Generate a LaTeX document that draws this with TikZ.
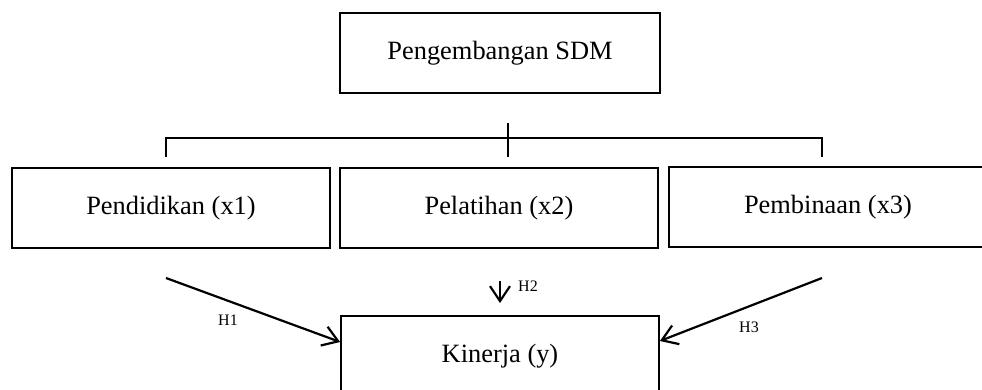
\documentclass[tikz,border=0pt]{standalone}
\usepackage{fontspec}
\setmainfont{Liberation Serif}
\usetikzlibrary{arrows.meta,positioning}

\begin{document}
\begin{tikzpicture}[x=0.5pt, y=-0.5pt,
  every node/.style={font=\fontsize{13.2pt}{16pt}\selectfont},
  varbox/.style={draw, rectangle, line width=0.9pt, minimum width=159pt, minimum height=40pt, inner sep=0pt},
  hlabel/.style={font=\fontsize{8pt}{9pt}\selectfont},
  hyp/.style={-{Straight Barb[length=7.5pt,width=10pt]}, line width=1.1pt}]
  \useasboundingbox (0,0) rectangle (982,390);
  \clip (0,0) rectangle (982,390);
  % boxes
  \node[varbox, minimum width=160pt] (sdm) at (500,53) {Pengembangan SDM};
  \node[varbox] (pend) at (171,208) {Pendidikan (x1)};
  \node[varbox] (pel) at (499,208) {Pelatihan (x2)};
  \node[varbox] (pemb) at (828,207) {Pembinaan (x3)};
  \node[varbox] (kin) at (500,356) {Kinerja (y)};
  % bracket
  \coordinate (bl) at (166,157);
  \coordinate (bm) at (508,157);
  \coordinate (br) at (822,157);
  \draw[line width=0.7pt] (bl) -- ++(0,-19) -| (br);
  \draw[line width=0.7pt] (bm) -- ++(0,-34);
  % hypotheses
  \coordinate (h1) at (166,278);
  \coordinate (h2) at (500,281);
  \coordinate (h3) at (822,278);
  \draw[hyp] (h1) -- ([yshift=7pt]kin.west);
  \draw[hyp] (h2) -- ([yshift=6pt]kin.north);
  \draw[hyp] (h3) -- ([yshift=7.5pt]kin.east);
  \node[hlabel] (l1) at (228,320) {H1};
  \node[hlabel] (l2) at (528,286) {H2};
  \node[hlabel] (l3) at (749,327) {H3};
\end{tikzpicture}
\end{document}
